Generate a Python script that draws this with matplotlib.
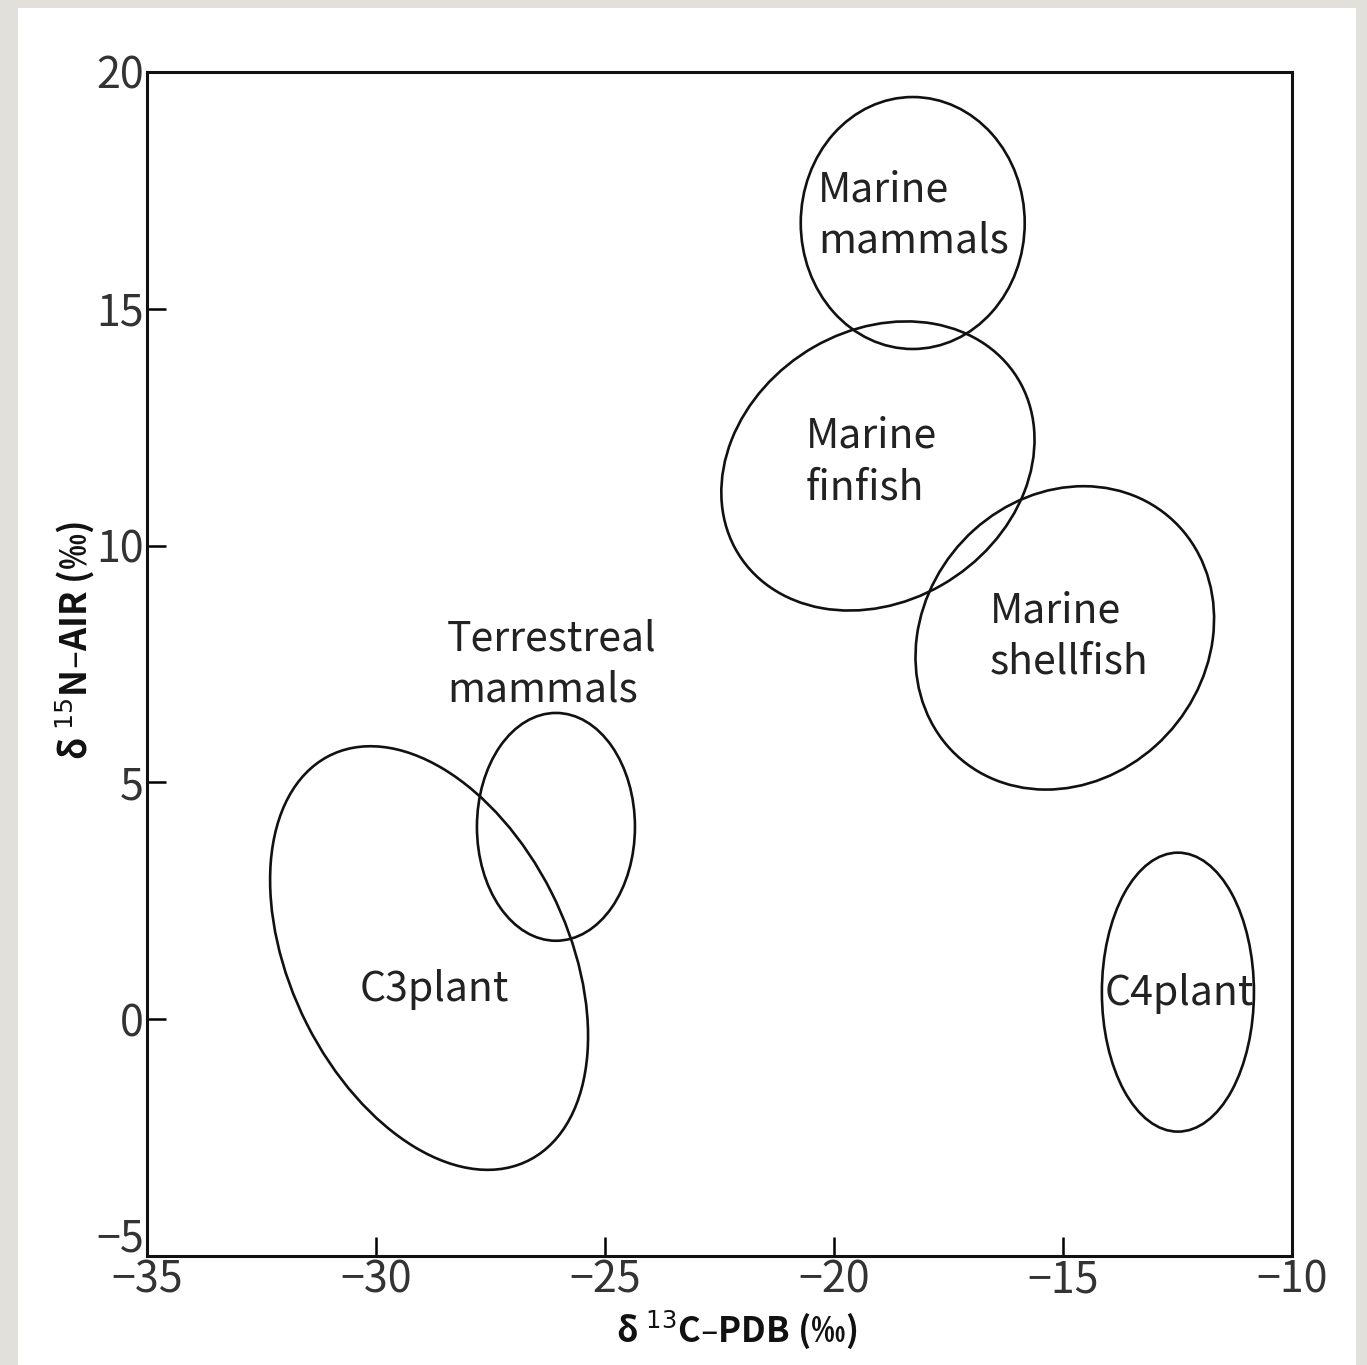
import matplotlib.pyplot as plt
from matplotlib.patches import Ellipse, Rectangle

plt.rcParams['font.family'] = ['Noto Sans CJK KR', 'DejaVu Sans']

# ellipses: centre x, centre y, width, height, angle (data units)
groups = ['Marine mammals', 'Marine finfish', 'Marine shellfish',
          'Terrestreal mammals', 'C3plant', 'C4plant']
cx = [-18.28, -19.04, -14.96, -26.07, -28.84, -12.49]
cy = [16.81, 11.68, 8.05, 4.06, 1.29, 0.57]
widths = [4.89, 7.14, 6.86, 3.45, 9.59, 3.32]
heights = [5.32, 5.75, 6.04, 4.81, 6.02, 5.89]
angles = [0, 29, 41, 0, -62.4, 0]

# label lines, left x, centre y of each line
label_text = ['Marine', 'mammals', 'Marine', 'finfish', 'Marine', 'shellfish',
              'Terrestreal', 'mammals', 'C3plant', 'C4plant']
label_x = [-20.35, -20.35, -20.61, -20.61, -16.59, -16.59,
           -28.45, -28.45, -30.35, -14.10]
label_y = [17.51, 16.43, 12.31, 11.22, 8.62, 7.54,
           8.03, 6.95, 0.62, 0.55]

xticks = [-35, -30, -25, -20, -15, -10]
yticks = [-5, 0, 5, 10, 15, 20]


def fmt(v):
    return '\u2212' + str(abs(v)) if v < 0 else str(v)


fig = plt.figure(figsize=(13.67, 13.65), dpi=100)
fig.patch.set_facecolor('#e2e0db')
fig.add_artist(Rectangle((0.0132, 0.0), 0.9788, 0.994, transform=fig.transFigure,
                         facecolor='white', edgecolor='none', zorder=0))

ax = fig.add_axes([0.1075, 0.0799, 0.8376, 0.8674])
ax.set_facecolor('white')

for i in range(len(groups)):
    e = Ellipse((cx[i], cy[i]), widths[i], heights[i], angle=angles[i],
                facecolor='none', edgecolor='#111111', linewidth=1.9)
    ax.add_patch(e)

for t, x, y in zip(label_text, label_x, label_y):
    ax.text(x, y, t, fontsize=29.5, fontweight='light', color='#222222',
            ha='left', va='center')

ax.set_xlim(-35, -10)
ax.set_ylim(-5, 20)
ax.set_xticks(xticks)
ax.set_yticks(yticks)
ax.set_xticklabels([fmt(v) for v in xticks])
# the -5 label sits a little above its tick in the original, drawn separately
ax.set_yticklabels(['' if v == yticks[0] else fmt(v) for v in yticks])
ax.tick_params(direction='in', length=14, width=1.8, labelsize=31,
               labelcolor='#333333', pad=2)
ax.annotate(fmt(yticks[0]), xy=(xticks[0], yticks[0]), xytext=(-2, 12),
            textcoords='offset points', ha='right', va='center',
            fontsize=31, color='#333333', annotation_clip=False)
for s in ax.spines.values():
    s.set_linewidth(2.2)
    s.set_color('#111111')

ax.set_xlabel('\u03b4 $^{13}$C\u2013PDB (\u2030)', fontsize=25,
              fontweight='bold', color='#111111')
ax.set_ylabel('\u03b4 $^{15}$N\u2013AIR (\u2030)', fontsize=26,
              fontweight='bold', color='#111111')
ax.xaxis.set_label_coords(0.515, -0.0625)
ax.xaxis.label.set_va('center')
ax.yaxis.set_label_coords(-0.063, 0.52)
ax.yaxis.label.set_va('center')

fig.savefig('out.png', dpi=100, facecolor=fig.get_facecolor())
